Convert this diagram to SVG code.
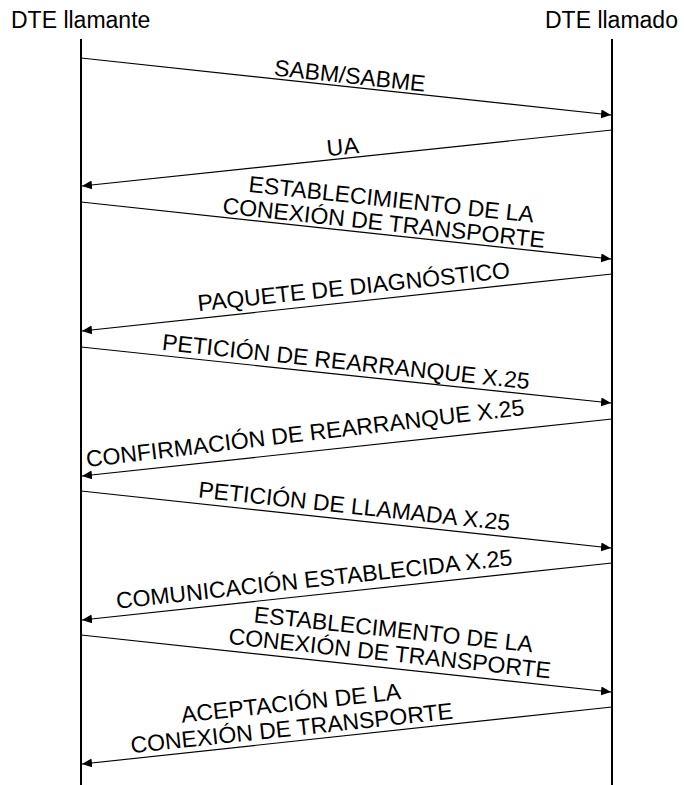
<svg xmlns="http://www.w3.org/2000/svg" width="684" height="785" viewBox="0 0 684 785">
<style>
  text { font-family: "Liberation Sans", Arial, sans-serif; fill: #000; }
  .hdr { font-size: 23px; }
  .lbl { font-size: 23px; text-anchor: middle; }
  .life { stroke: #000; stroke-width: 2; fill: none; }
  .msg { stroke: #000; stroke-width: 1.2; fill: none; marker-end: url(#arrow); }
</style>
<defs>
  <marker id="arrow" markerUnits="userSpaceOnUse" markerWidth="11" markerHeight="10" refX="10" refY="4.5" orient="auto">
    <path d="M0,0 L10,4.5 L0,9 z" fill="#000"/>
  </marker>
</defs>
<rect width="684" height="785" fill="#fff"/>
<g id="dte-llamante">
  <text class="hdr" x="11" y="27.5">DTE llamante</text>
  <line class="life" x1="81" y1="39" x2="81" y2="785"/>
</g>
<g id="dte-llamado">
  <text class="hdr" x="545" y="27.5">DTE llamado</text>
  <line class="life" x1="612" y1="39" x2="612" y2="785"/>
</g>
<g id="connectors">
  <g id="m1">
    <line class="msg" x1="81" y1="58" x2="611" y2="115"/>
    <g transform="translate(349,83.5) rotate(6.13)"><text class="lbl">SABM/SABME</text></g>
  </g>
  <g id="m2">
    <line class="msg" x1="612" y1="130" x2="82" y2="186"/>
    <g transform="translate(343.5,154.5) rotate(-6.0)"><text class="lbl">UA</text></g>
  </g>
  <g id="m3">
    <line class="msg" x1="81" y1="202" x2="611" y2="259"/>
    <g transform="translate(383,230.5) rotate(6.13)">
      <text class="lbl" x="5" y="-24">ESTABLECIMIENTO DE LA</text>
      <text class="lbl">CONEXIÓN DE TRANSPORTE</text>
    </g>
  </g>
  <g id="m4">
    <line class="msg" x1="612" y1="274" x2="82" y2="331"/>
    <g transform="translate(354.5,294.5) rotate(-6.13)"><text class="lbl">PAQUETE DE DIAGNÓSTICO</text></g>
  </g>
  <g id="m5">
    <line class="msg" x1="81" y1="347" x2="611" y2="403"/>
    <g transform="translate(345,369.5) rotate(6.13)"><text class="lbl">PETICIÓN DE REARRANQUE X.25</text></g>
  </g>
  <g id="m6">
    <line class="msg" x1="612" y1="419" x2="82" y2="476"/>
    <g transform="translate(306,441) rotate(-6.8)"><text class="lbl">CONFIRMACIÓN DE REARRANQUE X.25</text></g>
  </g>
  <g id="m7">
    <line class="msg" x1="81" y1="491" x2="611" y2="548"/>
    <g transform="translate(353.5,514) rotate(6.13)"><text class="lbl">PETICIÓN DE LLAMADA X.25</text></g>
  </g>
  <g id="m8">
    <line class="msg" x1="612" y1="563" x2="82" y2="620"/>
    <g transform="translate(315,587) rotate(-6.3)"><text class="lbl">COMUNICACIÓN ESTABLECIDA X.25</text></g>
  </g>
  <g id="m9">
    <line class="msg" x1="81" y1="635" x2="611" y2="692"/>
    <g transform="translate(389,661) rotate(6.13)">
      <text class="lbl" x="1" y="-24">ESTABLECIMENTO DE LA</text>
      <text class="lbl">CONEXIÓN DE TRANSPORTE</text>
    </g>
  </g>
  <g id="m10">
    <line class="msg" x1="612" y1="707" x2="82" y2="764"/>
    <g transform="translate(292.5,736) rotate(-6.13)">
      <text class="lbl" x="2" y="-25">ACEPTACIÓN DE LA</text>
      <text class="lbl">CONEXIÓN DE TRANSPORTE</text>
    </g>
  </g>
</g>
</svg>
